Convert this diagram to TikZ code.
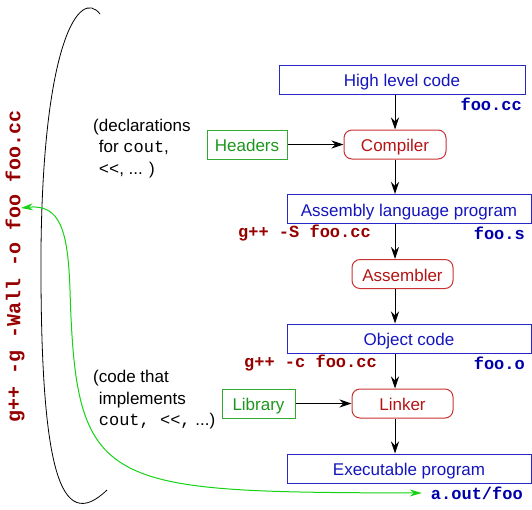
\documentclass[tikz,border=0pt]{standalone}
\usepackage{fontspec}
\setmainfont{Liberation Sans}
\setmonofont{Liberation Mono}
\usetikzlibrary{arrows.meta}
\definecolor{stageline}{RGB}{40,40,200}
\definecolor{stagetext}{RGB}{20,20,190}
\definecolor{toolline}{RGB}{200,50,50}
\definecolor{tooltext}{RGB}{180,20,20}
\definecolor{extraline}{RGB}{50,170,50}
\definecolor{extratext}{RGB}{30,150,30}
\definecolor{fileblue}{RGB}{0,0,170}
\definecolor{cmdred}{RGB}{150,0,0}
\definecolor{linkgreen}{RGB}{20,210,20}

\begin{document}
\begin{tikzpicture}[x=1pt,y=-1pt,
			stage/.style={draw=stageline,line width=1pt,text=stagetext,minimum height=29pt,inner sep=0pt,text height=15pt,text depth=0.6pt,font=\fontsize{17}{20}\selectfont},
			tool/.style={draw=toolline,line width=1pt,rounded corners=8pt,text=tooltext,minimum height=29pt,inner sep=0pt,text height=15pt,text depth=0.6pt,font=\fontsize{17}{20}\selectfont},
			extra/.style={draw=extraline,line width=1pt,text=extratext,minimum height=29pt,inner sep=0pt,text height=15pt,text depth=0.6pt,font=\fontsize{17}{20}\selectfont},
			fname/.style={text=fileblue,inner sep=0pt,anchor=east,font=\fontsize{17}{20}\selectfont\ttfamily\bfseries},
			cmd/.style={text=cmdred,inner sep=0pt,font=\fontsize{17}{20}\selectfont\ttfamily\bfseries},
			note/.style={align=left,inner sep=0pt,anchor=north west,font=\fontsize{17}{21.5}\selectfont},
			flow/.style={-{Stealth[length=12pt,width=8pt]},line width=1pt}]
		\useasboundingbox (0,0) rectangle (532,509);
		\path 	(402,79.5) 	node 	(hlc) [stage, minimum width=246pt] {High level code}
		        (409,209) 	node 	(asl) [stage, minimum width=244pt] {Assembly language program}
		        (409,338.5) node 	(obj) [stage, minimum width=244pt] {Object code}
		        (409,468.5) node 	(exe) [stage, minimum width=244pt] {Executable program}
		        (395,144.5) node 	(cmp) [tool, minimum width=102pt] {Compiler}
		        (402.5,274) node 	(asm) [tool, minimum width=101pt] {Assembler}
		        (402.5,403.5) node 	(lnk) [tool, minimum width=101pt] {Linker}
		        (247,144.5) node 	(hdr) [extra, minimum width=80pt] {Headers}
		        (258.5,403.5) node 	(lib) [extra, minimum width=73pt] {Library};
		\path 	(522,104) 	node 	(fcc) [fname] {foo.cc}
		        (525,233) 	node 	(fs) [fname] {foo.s}
		        (525,363) 	node 	(fo) [fname] {foo.o}
		        (523,493) 	node 	(aout) [fname] {a.out/foo}
		        (304.5,233) node 	(cms) [cmd] {g++ -S foo.cc}
		        (310.5,363) node 	(cmc) [cmd] {g++ -c foo.cc}
		        (15,266.5) 	node 	(gxx) [cmd, rotate=90, font=\fontsize{20}{24}\selectfont\ttfamily\bfseries] {g++ -g -Wall -o foo foo.cc};
		\path 	(93,118.5) 	node 	(decl) [note] {(declarations\\\hphantom{(}for \texttt{cout},\\\hphantom{(}\texttt{<<}, ... )}
		        (93,370) 	node 	(impl) [note] {(code that\\\hphantom{(}implements\\\hphantom{(}\texttt{cout, <<,} ...)};
		\coordinate (gtip) at (21,208);
		\draw [flow] (hlc.south -| cmp) -- (cmp);
		\draw [flow] (cmp) -- (asl.north -| cmp);
		\draw [flow] (asl.south -| cmp) -- (asm.north -| cmp);
		\draw [flow] (asm.south -| cmp) -- (obj.north -| cmp);
		\draw [flow] (obj.south -| cmp) -- (lnk.north -| cmp);
		\draw [flow] (lnk.south -| cmp) -- (exe.north -| cmp);
		\draw [flow] (hdr) -- (cmp);
		\draw [flow] (lib) -- (lnk);
		% compile command covers every stage
		\draw [line width=0.8pt] (100,14) .. controls (80,-12) and (43,40) .. (41,250) .. controls (40,470) and (60,535) .. (107,490);
		\draw [linkgreen, line width=1pt, {Stealth[length=12pt,width=7pt]}-{Stealth[length=12pt,width=7pt]}] (gtip) .. controls (60,204) and (68,230) .. (70,290) .. controls (76,490) and (100,492) .. ([xshift=-9pt]aout.west);
	\end{tikzpicture}
\end{document}
